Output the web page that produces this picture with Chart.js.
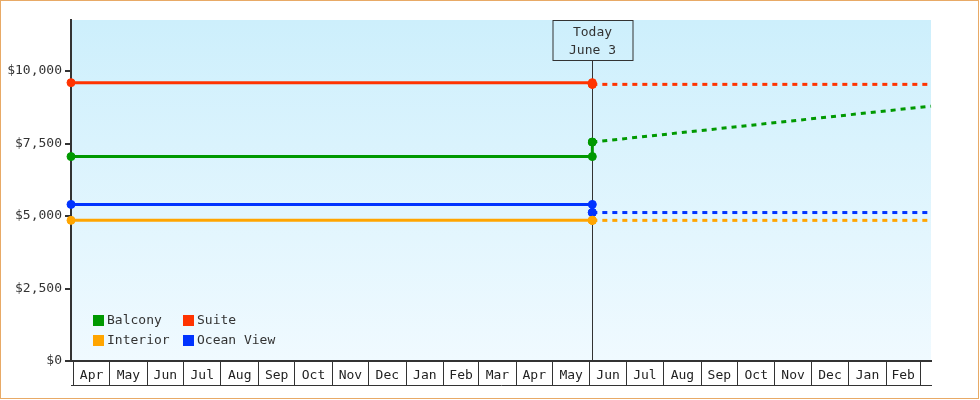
<!DOCTYPE html>
<html><head><meta charset="utf-8">
<script src="https://cdn.jsdelivr.net/npm/chart.js@4.4.0/dist/chart.umd.min.js"></script>
<style>
html,body{margin:0;padding:0;background:#fff;}
#wrap{position:relative;width:980px;height:400px;}
#c{position:absolute;left:0;top:0;}
#frame{position:absolute;left:0;top:0;width:977px;height:397px;border:1px solid #e8aa66;pointer-events:none;}
</style></head><body>
<div id="wrap"><canvas id="c" width="980" height="400"></canvas><div id="frame"></div></div>
<script>
// ---- data ----
const monthLabels = ['Apr','May','Jun','Jul','Aug','Sep','Oct','Nov','Dec','Jan','Feb','Mar',
                     'Apr','May','Jun','Jul','Aug','Sep','Oct','Nov','Dec','Jan','Feb'];
const monthStarts = ['2023-04-01','2023-05-01','2023-06-01','2023-07-01','2023-08-01','2023-09-01',
                     '2023-10-01','2023-11-01','2023-12-01','2024-01-01','2024-02-01','2024-03-01',
                     '2024-04-01','2024-05-01','2024-06-01','2024-07-01','2024-08-01','2024-09-01',
                     '2024-10-01','2024-11-01','2024-12-01','2025-01-01','2025-02-01','2025-03-01'];
const yTicks = [0, 2500, 5000, 7500, 10000];
const yMax = 11760;
const seriesNames = ['Balcony', 'Suite', 'Interior', 'Ocean View'];
const seriesColors = ['#009900', '#ff3300', '#ffa500', '#0033ff'];
const historyDates = ['2023-03-30', '2024-06-03', '2024-06-03'];
const balconyHistory  = [7050, 7050, 7550];
const suiteHistory    = [9600, 9600, 9540];
const interiorHistory = [4850, 4850, 4850];
const oceanHistory    = [5400, 5400, 5120];
const futureDates = ['2024-06-03', '2025-03-10'];
const balconyFuture  = [7550, 8790];
const suiteFuture    = [9540, 9540];
const interiorFuture = [4850, 4850];
const oceanFuture    = [5120, 5120];
const todayDate = '2024-06-03';
const todayLines = ['Today', 'June 3'];

// ---- helpers ----
function dayOf(s) {
  const [y, m, d] = s.split('-').map(Number);
  const [y0, m0, d0] = monthStarts[0].split('-').map(Number);
  return (Date.UTC(y, m - 1, d) - Date.UTC(y0, m0 - 1, d0)) / 86400000;
}
const boundaries = monthStarts.map(dayOf);
const mids = monthLabels.map((l, i) => (boundaries[i] + boundaries[i + 1]) / 2);
const midLabel = new Map(mids.map((v, i) => [v, monthLabels[i]]));
const boundarySet = new Set(boundaries);

const histValues = [balconyHistory, suiteHistory, interiorHistory, oceanHistory];
const futValues = [balconyFuture, suiteFuture, interiorFuture, oceanFuture];
const datasets = [];
seriesNames.forEach((name, i) => {
  datasets.push({
    label: name,
    data: historyDates.map((d, j) => ({x: dayOf(d), y: histValues[i][j]})),
    borderColor: seriesColors[i], backgroundColor: seriesColors[i],
    borderWidth: 3, pointRadius: 4, pointBorderWidth: 1,
    pointBackgroundColor: seriesColors[i], pointBorderColor: seriesColors[i],
    tension: 0, clip: false
  });
  datasets.push({
    label: name + ' (forecast)',
    data: futureDates.map((d, j) => ({x: dayOf(d), y: futValues[i][j]})),
    borderColor: seriesColors[i], backgroundColor: seriesColors[i],
    borderWidth: 3, borderDash: [5, 5],
    pointRadius: ctx => ctx.dataIndex === 0 ? 4 : 0, pointBorderWidth: 1,
    pointBackgroundColor: seriesColors[i], pointBorderColor: seriesColors[i],
    tension: 0, clip: false
  });
});

const FONT = "'DejaVu Sans Mono', monospace";
Chart.defaults.font.family = FONT;
Chart.defaults.font.size = 13;

const bgPlugin = {
  id: 'bg',
  beforeDraw(chart) {
    const {ctx, chartArea: a} = chart;
    const g = ctx.createLinearGradient(0, a.top, 0, a.bottom);
    g.addColorStop(0, '#cdeffc');
    g.addColorStop(1, '#f0faff');
    ctx.save(); ctx.fillStyle = g;
    ctx.fillRect(a.left, a.top, a.right - a.left, a.bottom - a.top);
    ctx.restore();
  }
};
const todayPlugin = {
  id: 'today',
  beforeDatasetsDraw(chart) {
    const {ctx, chartArea: a, scales: {x}} = chart;
    const px = Math.round(x.getPixelForValue(dayOf(todayDate))) + 0.5;
    const bw = 80, bh = 40;
    const bx = Math.round(px - bw / 2), by = a.top + 0.5;
    ctx.save();
    ctx.strokeStyle = '#333'; ctx.lineWidth = 1;
    ctx.beginPath(); ctx.moveTo(px, by + bh); ctx.lineTo(px, a.bottom); ctx.stroke();
    ctx.strokeRect(bx, by, bw, bh);
    ctx.fillStyle = '#333'; ctx.font = '13px ' + FONT;
    ctx.textAlign = 'center'; ctx.textBaseline = 'middle';
    ctx.fillText(todayLines[0], px, a.top + 13);
    ctx.fillText(todayLines[1], px, a.top + 31);
    ctx.restore();
  }
};
const legendPlugin = {
  id: 'inlegend',
  afterDatasetsDraw(chart) {
    const {ctx, chartArea: a} = chart;
    const cols = [a.left + 22, a.left + 112];
    const rows = [a.bottom - 46, a.bottom - 26];
    ctx.save();
    ctx.font = '13px ' + FONT; ctx.textBaseline = 'middle'; ctx.textAlign = 'left';
    seriesNames.forEach((n, i) => {
      const cx = cols[i % 2], cy = rows[Math.floor(i / 2)];
      ctx.fillStyle = seriesColors[i];
      ctx.fillRect(cx, cy, 11, 11);
      ctx.fillStyle = '#333';
      ctx.fillText(n, cx + 14, cy + 6);
    });
    ctx.restore();
  }
};

new Chart(document.getElementById('c'), {
  type: 'line',
  data: {datasets},
  options: {
    responsive: false, animation: false, devicePixelRatio: 1, events: [],
    layout: {padding: {left: 0, top: 20, right: 49, bottom: 15}},
    plugins: {legend: {display: false}, tooltip: {enabled: false}},
    scales: {
      x: {
        type: 'linear', position: 'bottom',
        min: dayOf(historyDates[0]), max: dayOf(futureDates[futureDates.length - 1]),
        afterBuildTicks: s => {
          s.ticks = boundaries.concat(mids).sort((p, q) => p - q).map(v => ({value: v}));
        },
        afterFit: s => { s.height = 24; },
        ticks: {
          autoSkip: false, maxRotation: 0, minRotation: 0, padding: -17, color: '#222',
          callback: v => midLabel.get(v) || ''
        },
        grid: {
          drawOnChartArea: false, drawTicks: true, tickLength: 24, lineWidth: 1,
          color: ctx => (ctx.tick && boundarySet.has(ctx.tick.value)) ? '#333' : 'rgba(0,0,0,0)'
        },
        border: {display: true, color: '#333', width: 2}
      },
      x2: {
        type: 'linear', position: 'bottom', min: 0, max: 1,
        afterFit: s => { s.height = 0; },
        ticks: {display: false},
        grid: {drawOnChartArea: false, drawTicks: false, color: 'rgba(0,0,0,0)'},
        border: {display: true, color: '#333', width: 1}
      },
      y: {
        type: 'linear', min: 0, max: yMax,
        afterBuildTicks: s => { s.ticks = yTicks.map(v => ({value: v})); },
        afterFit: s => { s.width = 71; },
        ticks: {padding: 3, color: '#333', callback: v => '$' + v.toLocaleString('en-US')},
        grid: {drawOnChartArea: false, drawTicks: true, tickLength: 6, lineWidth: 2, color: '#333'},
        border: {display: true, color: '#333', width: 2}
      }
    }
  },
  plugins: [bgPlugin, todayPlugin, legendPlugin]
});
</script>
</body></html>
